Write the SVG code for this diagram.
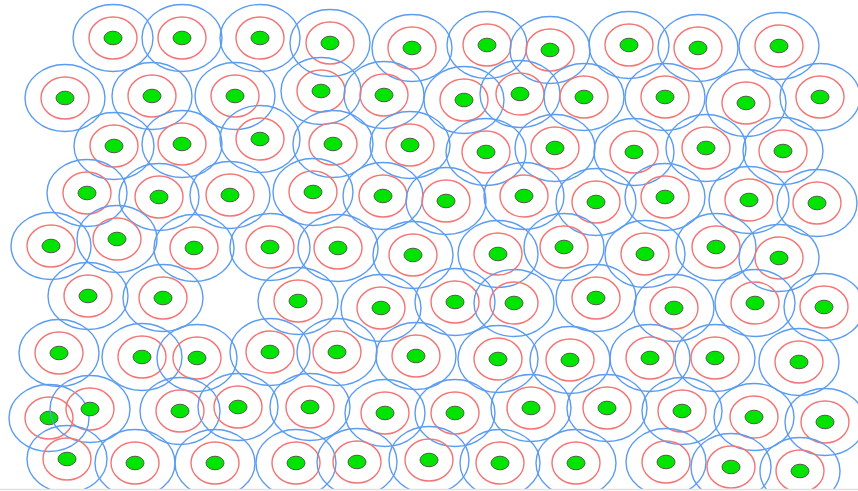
<svg xmlns="http://www.w3.org/2000/svg" width="858" height="491" viewBox="0 0 858 491">
<style>
.b{fill:none;stroke:#5b9cf0;stroke-width:1.4}
.r{fill:none;stroke:#f27676;stroke-width:1.4}
.g{fill:#00e400;stroke:#4b5e46;stroke-width:1}
</style>
<defs>
<clipPath id="clip"><rect x="0" y="0" width="858" height="489"/></clipPath>
<g id="n"><ellipse class="b" rx="40" ry="33.5"/><ellipse class="r" rx="24" ry="21"/><ellipse class="g" rx="9" ry="6.8"/></g>
</defs>
<rect width="858" height="491" fill="#fff"/>
<g clip-path="url(#clip)">
<g id="n1-1" transform="translate(113,38)"><use href="#n"/></g>
<g id="n1-2" transform="translate(182,38)"><use href="#n"/></g>
<g id="n1-3" transform="translate(260,38)"><use href="#n"/></g>
<g id="n1-4" transform="translate(330,43)"><use href="#n"/></g>
<g id="n1-5" transform="translate(412,48)"><use href="#n"/></g>
<g id="n1-6" transform="translate(487,45)"><use href="#n"/></g>
<g id="n1-7" transform="translate(550,50)"><use href="#n"/></g>
<g id="n1-8" transform="translate(629,45)"><use href="#n"/></g>
<g id="n1-9" transform="translate(698,48)"><use href="#n"/></g>
<g id="n1-10" transform="translate(779,46)"><use href="#n"/></g>
<g id="n2-1" transform="translate(65,98)"><use href="#n"/></g>
<g id="n2-2" transform="translate(152,96)"><use href="#n"/></g>
<g id="n2-3" transform="translate(235,96)"><use href="#n"/></g>
<g id="n2-4" transform="translate(321,91)"><use href="#n"/></g>
<g id="n2-5" transform="translate(384,95)"><use href="#n"/></g>
<g id="n2-6" transform="translate(464,100)"><use href="#n"/></g>
<g id="n2-7" transform="translate(520,94)"><use href="#n"/></g>
<g id="n2-8" transform="translate(584,97)"><use href="#n"/></g>
<g id="n2-9" transform="translate(665,97)"><use href="#n"/></g>
<g id="n2-10" transform="translate(746,103)"><use href="#n"/></g>
<g id="n2-11" transform="translate(820,97)"><use href="#n"/></g>
<g id="n3-1" transform="translate(114,146)"><use href="#n"/></g>
<g id="n3-2" transform="translate(182,144)"><use href="#n"/></g>
<g id="n3-3" transform="translate(260,139)"><use href="#n"/></g>
<g id="n3-4" transform="translate(333,144)"><use href="#n"/></g>
<g id="n3-5" transform="translate(410,145)"><use href="#n"/></g>
<g id="n3-6" transform="translate(486,152)"><use href="#n"/></g>
<g id="n3-7" transform="translate(555,148)"><use href="#n"/></g>
<g id="n3-8" transform="translate(634,152)"><use href="#n"/></g>
<g id="n3-9" transform="translate(706,148)"><use href="#n"/></g>
<g id="n3-10" transform="translate(783,151)"><use href="#n"/></g>
<g id="n4-1" transform="translate(87,193)"><use href="#n"/></g>
<g id="n4-2" transform="translate(159,197)"><use href="#n"/></g>
<g id="n4-3" transform="translate(230,195)"><use href="#n"/></g>
<g id="n4-4" transform="translate(313,192)"><use href="#n"/></g>
<g id="n4-5" transform="translate(383,196)"><use href="#n"/></g>
<g id="n4-6" transform="translate(446,201)"><use href="#n"/></g>
<g id="n4-7" transform="translate(524,196)"><use href="#n"/></g>
<g id="n4-8" transform="translate(596,202)"><use href="#n"/></g>
<g id="n4-9" transform="translate(665,197)"><use href="#n"/></g>
<g id="n4-10" transform="translate(749,200)"><use href="#n"/></g>
<g id="n4-11" transform="translate(817,203)"><use href="#n"/></g>
<g id="n5-1" transform="translate(51,246)"><use href="#n"/></g>
<g id="n5-2" transform="translate(117,239)"><use href="#n"/></g>
<g id="n5-3" transform="translate(194,248)"><use href="#n"/></g>
<g id="n5-4" transform="translate(270,247)"><use href="#n"/></g>
<g id="n5-5" transform="translate(338,248)"><use href="#n"/></g>
<g id="n5-6" transform="translate(413,255)"><use href="#n"/></g>
<g id="n5-7" transform="translate(498,254)"><use href="#n"/></g>
<g id="n5-8" transform="translate(564,247)"><use href="#n"/></g>
<g id="n5-9" transform="translate(645,254)"><use href="#n"/></g>
<g id="n5-10" transform="translate(716,247)"><use href="#n"/></g>
<g id="n5-11" transform="translate(779,258)"><use href="#n"/></g>
<g id="n6-1" transform="translate(88,296)"><use href="#n"/></g>
<g id="n6-2" transform="translate(163,298)"><use href="#n"/></g>
<g id="n6-3" transform="translate(298,301)"><use href="#n"/></g>
<g id="n6-4" transform="translate(381,308)"><use href="#n"/></g>
<g id="n6-5" transform="translate(455,302)"><use href="#n"/></g>
<g id="n6-6" transform="translate(514,303)"><use href="#n"/></g>
<g id="n6-7" transform="translate(596,298)"><use href="#n"/></g>
<g id="n6-8" transform="translate(674,308)"><use href="#n"/></g>
<g id="n6-9" transform="translate(755,303)"><use href="#n"/></g>
<g id="n6-10" transform="translate(824,307)"><use href="#n"/></g>
<g id="n7-1" transform="translate(59,353)"><use href="#n"/></g>
<g id="n7-2" transform="translate(142,357)"><use href="#n"/></g>
<g id="n7-3" transform="translate(197,358)"><use href="#n"/></g>
<g id="n7-4" transform="translate(270,352)"><use href="#n"/></g>
<g id="n7-5" transform="translate(337,352)"><use href="#n"/></g>
<g id="n7-6" transform="translate(416,356)"><use href="#n"/></g>
<g id="n7-7" transform="translate(498,359)"><use href="#n"/></g>
<g id="n7-8" transform="translate(570,360)"><use href="#n"/></g>
<g id="n7-9" transform="translate(650,358)"><use href="#n"/></g>
<g id="n7-10" transform="translate(715,358)"><use href="#n"/></g>
<g id="n7-11" transform="translate(799,362)"><use href="#n"/></g>
<g id="n8-1" transform="translate(49,418)"><use href="#n"/></g>
<g id="n8-2" transform="translate(90,409)"><use href="#n"/></g>
<g id="n8-3" transform="translate(180,411)"><use href="#n"/></g>
<g id="n8-4" transform="translate(238,407)"><use href="#n"/></g>
<g id="n8-5" transform="translate(310,407)"><use href="#n"/></g>
<g id="n8-6" transform="translate(385,413)"><use href="#n"/></g>
<g id="n8-7" transform="translate(455,413)"><use href="#n"/></g>
<g id="n8-8" transform="translate(531,408)"><use href="#n"/></g>
<g id="n8-9" transform="translate(607,408)"><use href="#n"/></g>
<g id="n8-10" transform="translate(682,411)"><use href="#n"/></g>
<g id="n8-11" transform="translate(754,417)"><use href="#n"/></g>
<g id="n8-12" transform="translate(825,422)"><use href="#n"/></g>
<g id="n9-1" transform="translate(67,459)"><use href="#n"/></g>
<g id="n9-2" transform="translate(135,463)"><use href="#n"/></g>
<g id="n9-3" transform="translate(215,463)"><use href="#n"/></g>
<g id="n9-4" transform="translate(296,463)"><use href="#n"/></g>
<g id="n9-5" transform="translate(357,462)"><use href="#n"/></g>
<g id="n9-6" transform="translate(429,460)"><use href="#n"/></g>
<g id="n9-7" transform="translate(500,463)"><use href="#n"/></g>
<g id="n9-8" transform="translate(576,463)"><use href="#n"/></g>
<g id="n9-9" transform="translate(666,462)"><use href="#n"/></g>
<g id="n9-10" transform="translate(731,467)"><use href="#n"/></g>
<g id="n9-11" transform="translate(800,471)"><use href="#n"/></g>
</g>
<line x1="0" y1="489.5" x2="858" y2="489.5" stroke="#e2e2e2" stroke-width="1.5"/>
</svg>
